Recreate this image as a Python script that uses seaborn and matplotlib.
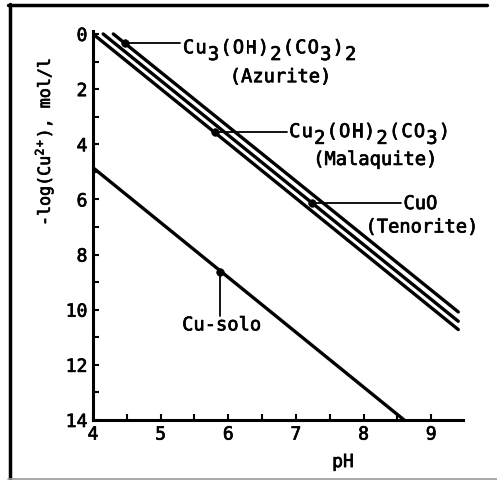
import numpy as np
import pandas as pd
import matplotlib
matplotlib.use("Agg")
import matplotlib.pyplot as plt
import matplotlib.patheffects as pe
from matplotlib.lines import Line2D
from matplotlib.text import Text
from matplotlib.ticker import MultipleLocator
import seaborn as sns

# ---- data ----
azurite_ph = [4.30, 9.40]
azurite_logcu = [0.0, 10.08]
malaquite_ph = [4.00, 9.40]
malaquite_logcu = [0.0, 10.72]
tenorite_ph = [4.15, 9.40]
tenorite_logcu = [0.0, 10.42]
cusolo_ph = [4.00, 8.60]
cusolo_logcu = [4.85, 14.0]

series_names = ["Azurite", "Malaquite", "Tenorite", "Cu-solo"]
marker_ph = [4.47, 5.80, 7.24, 5.88]
marker_logcu = [0.34, 3.57, 6.13, 8.62]

x_ticks = [4, 5, 6, 7, 8, 9]
y_ticks = [0, 2, 4, 6, 8, 10, 12, 14]

sns.set_style("ticks")
MONO = 'DejaVu Sans Mono'
plt.rcParams['font.family'] = [MONO, 'DejaVu Sans']
plt.rcParams['mathtext.fontset'] = 'custom'
plt.rcParams['mathtext.rm'] = MONO
plt.rcParams['mathtext.it'] = MONO
plt.rcParams['mathtext.bf'] = MONO
for k in ['text.color', 'axes.labelcolor', 'xtick.color', 'ytick.color', 'axes.edgecolor']:
    plt.rcParams[k] = 'black'

df = pd.concat([
    pd.DataFrame({"pH": azurite_ph, "v": azurite_logcu, "s": "Azurite"}),
    pd.DataFrame({"pH": malaquite_ph, "v": malaquite_logcu, "s": "Malaquite"}),
    pd.DataFrame({"pH": tenorite_ph, "v": tenorite_logcu, "s": "Tenorite"}),
    pd.DataFrame({"pH": cusolo_ph, "v": cusolo_logcu, "s": "Cu-solo"}),
], ignore_index=True)

fig = plt.figure(figsize=(4.97, 4.81), dpi=100)
ax = fig.add_axes([93/497, (481-421)/481, 370/497, (421-32.2)/481])

sns.lineplot(data=df, x="pH", y="v", units="s", estimator=None, color="black",
             linewidth=2.4, ax=ax, legend=False)

mk = pd.DataFrame({"pH": marker_ph, "v": marker_logcu})
sns.scatterplot(data=mk, x="pH", y="v", color="black", s=30, edgecolor="black",
                zorder=5, ax=ax, legend=False)

# leader lines
lw_lead = 1.3
ax.plot([marker_ph[0], 5.29], [marker_logcu[0], marker_logcu[0]], color="black", lw=lw_lead)
ax.plot([marker_ph[1], 6.87], [marker_logcu[1] - 0.03, marker_logcu[1] - 0.03], color="black", lw=lw_lead)
ax.plot([marker_ph[2], 8.55], [marker_logcu[2], marker_logcu[2]], color="black", lw=lw_lead)
ax.plot([marker_ph[3], marker_ph[3]], [marker_logcu[3], 10.22], color="black", lw=lw_lead)

fs = 13.5


def chem(x, y, pieces, adv=0.665):
    """Draw a formula char by char; subscripts full-size, lowered."""
    off = 0.0
    for txt, sub in pieces:
        for ch in txt:
            ax.annotate(ch, xy=(x, y), xytext=(off, -0.36 * fs if sub else 0),
                        textcoords='offset points', fontsize=fs, family=MONO,
                        va='baseline', ha='left')
            off += adv * fs


chem(5.33, 0.70, [("Cu", 0), ("3", 1), ("(OH)", 0), ("2", 1), ("(CO", 0), ("3", 1), (")", 0), ("2", 1)])
ax.text(6.77, 1.55, '(Azurite)', fontsize=fs, va='center', ha='center')
chem(6.90, 3.74, [("Cu", 0), ("2", 1), ("(OH)", 0), ("2", 1), ("(CO", 0), ("3", 1), (")", 0)])
ax.text(8.17, 4.55, '(Malaquite)', fontsize=fs, va='center', ha='center')
ax.text(8.59, 6.35, 'CuO', fontsize=fs, va='baseline', ha='left')
ax.text(8.86, 7.0, '(Tenorite)', fontsize=fs, va='center', ha='center')
ax.text(5.90, 10.55, 'Cu-solo', fontsize=fs, va='center', ha='center')

ax.set_xlim(4, 9.47)
ax.set_ylim(14, -0.1)
ax.set_xticks(x_ticks)
ax.set_yticks(y_ticks)
ax.xaxis.set_minor_locator(MultipleLocator(0.5))
ax.yaxis.set_minor_locator(MultipleLocator(1))
ax.tick_params(which='both', direction='in', length=4, width=1.5, colors='black',
               labelsize=13)
ax.tick_params(axis='y', pad=4)
ax.tick_params(axis='x', pad=4)
sns.despine(ax=ax)
for sp in ['left', 'bottom']:
    ax.spines[sp].set_linewidth(2.2)
    ax.spines[sp].set_color('black')

ax.set_xlabel('pH', fontsize=13)
ax.set_ylabel(r'-log(Cu$^{2+}$), mol/l', fontsize=12)
ax.xaxis.set_label_coords((343-93)/370, -0.085)
ax.yaxis.set_label_coords(-0.10, 0.715)

# medium-weight plotter-like lettering
stroke = [pe.withStroke(linewidth=0.5, foreground='black')]
for t in fig.findobj(Text):
    t.set_path_effects(stroke)

# outer frame
fig.add_artist(Line2D([9.5/497, 9.5/497], [0, 1 - 5/481], transform=fig.transFigure, color='black', lw=2.5))
fig.add_artist(Line2D([8/497, 487/497], [1 - 6/481, 1 - 6/481], transform=fig.transFigure, color='black', lw=2.5))
fig.add_artist(Line2D([8/497, 1], [1.5/481, 1.5/481], transform=fig.transFigure, color='#999999', lw=1.2))

fig.savefig("out.png", dpi=100)
